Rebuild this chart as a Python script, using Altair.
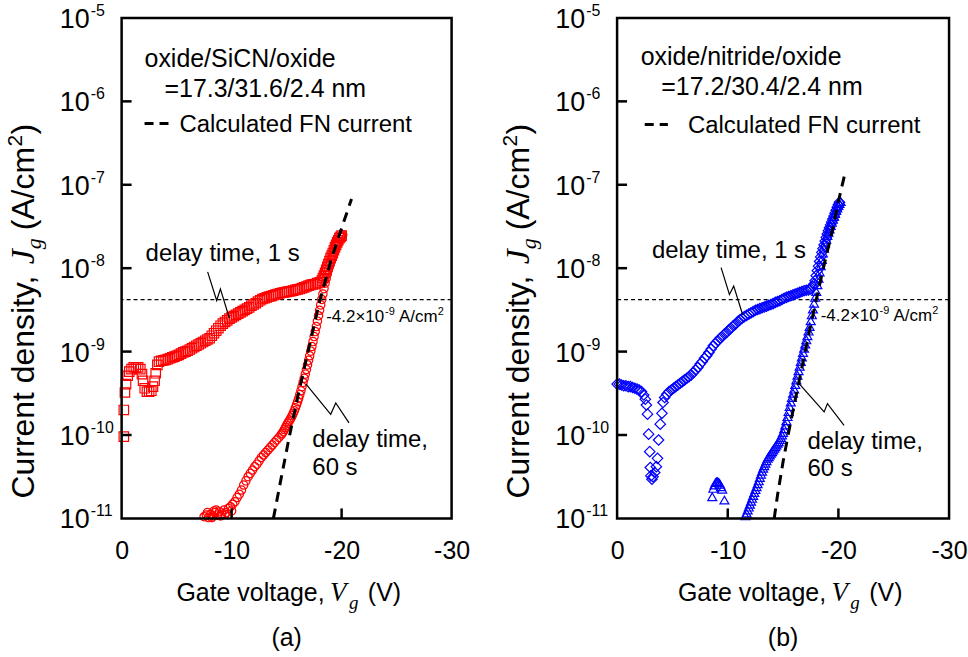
import altair as alt
import pandas as pd

FONT = "Liberation Sans"
SERIF = "Liberation Serif"

# ---------------- panel (a): oxide/SiCN/oxide ----------------
# (gate voltage V, log10 of current density A/cm2)
a_delay1s = [
    (-0.2, -10.02), (-0.2, -9.70), (-0.3, -9.49), (-0.4, -9.39), (-0.55, -9.29), (-0.7, -9.24),
    (-0.9, -9.21), (-1.1, -9.19), (-1.3, -9.19), (-1.5, -9.19), (-1.7, -9.21), (-1.85, -9.27),
    (-1.95, -9.35), (-2.1, -9.44), (-2.3, -9.48), (-2.5, -9.48), (-2.7, -9.47), (-2.85, -9.42),
    (-3.0, -9.35), (-3.1, -9.26), (-3.25, -9.16), (-3.4, -9.12), (-3.6, -9.11), (-3.8, -9.105),
    (-4.0, -9.10), (-4.2, -9.09), (-4.4, -9.08), (-4.6, -9.07), (-4.8, -9.06), (-5.0, -9.05),
    (-5.2, -9.04), (-5.4, -9.025), (-5.6, -9.01), (-5.8, -9.00), (-6.0, -8.99), (-6.2, -8.975),
    (-6.4, -8.96), (-6.6, -8.945), (-6.8, -8.93), (-7.0, -8.915), (-7.2, -8.90), (-7.4, -8.885),
    (-7.6, -8.87), (-7.8, -8.855), (-8.0, -8.84), (-8.2, -8.81), (-8.4, -8.78), (-8.6, -8.75),
    (-8.8, -8.72), (-9.0, -8.69), (-9.2, -8.665), (-9.4, -8.645), (-9.6, -8.625), (-9.8, -8.605),
    (-10.0, -8.59), (-10.2, -8.575), (-10.4, -8.56), (-10.6, -8.545), (-10.8, -8.53), (-11.0, -8.515),
    (-11.2, -8.50), (-11.4, -8.485), (-11.6, -8.47), (-11.8, -8.45), (-12.0, -8.435), (-12.2, -8.42),
    (-12.4, -8.40), (-12.6, -8.385), (-12.8, -8.37), (-13.0, -8.36), (-13.2, -8.35), (-13.4, -8.34),
    (-13.6, -8.335), (-13.8, -8.325), (-14.0, -8.315), (-14.2, -8.31), (-14.4, -8.30), (-14.6, -8.295),
    (-14.8, -8.29), (-15.0, -8.285), (-15.2, -8.28), (-15.4, -8.275), (-15.6, -8.27), (-15.8, -8.26),
    (-16.0, -8.255), (-16.2, -8.25), (-16.4, -8.24), (-16.6, -8.23), (-16.8, -8.22), (-17.0, -8.21),
    (-17.2, -8.20), (-17.4, -8.195), (-17.6, -8.19), (-17.8, -8.18), (-18.0, -8.17), (-18.2, -8.15),
    (-18.3, -8.12), (-18.4, -8.09), (-18.5, -8.055), (-18.6, -8.02), (-18.7, -7.985), (-18.8, -7.95),
    (-18.9, -7.915), (-19.0, -7.88), (-19.1, -7.85), (-19.2, -7.82), (-19.3, -7.785), (-19.4, -7.75),
    (-19.5, -7.72), (-19.6, -7.69), (-19.7, -7.665), (-19.8, -7.64), (-19.9, -7.625), (-20.0, -7.61),
]
a_delay60s = [
    (-7.5, -10.98), (-7.7, -10.96), (-7.8, -10.93), (-7.9, -10.99), (-8.1, -10.95), (-8.2, -10.99),
    (-8.3, -10.97), (-8.4, -10.91), (-8.5, -10.93), (-8.6, -10.90), (-8.7, -10.96), (-8.9, -10.92),
    (-9.0, -10.97), (-9.1, -10.95), (-9.3, -10.90), (-9.4, -10.95), (-9.5, -10.93), (-9.7, -10.88),
    (-9.9, -10.86), (-10.0, -10.91), (-10.1, -10.83), (-10.3, -10.80), (-10.5, -10.75), (-10.7, -10.71),
    (-10.9, -10.66), (-11.1, -10.60), (-11.3, -10.55), (-11.5, -10.50), (-11.7, -10.46), (-11.9, -10.42),
    (-12.1, -10.38), (-12.3, -10.35), (-12.5, -10.31), (-12.7, -10.27), (-12.9, -10.24), (-13.1, -10.21),
    (-13.3, -10.18), (-13.5, -10.15), (-13.7, -10.12), (-13.9, -10.09), (-14.1, -10.06), (-14.3, -10.03),
    (-14.5, -10.00), (-14.6, -9.98), (-14.7, -9.96), (-14.8, -9.935), (-14.9, -9.91), (-15.0, -9.885),
    (-15.1, -9.86), (-15.2, -9.84), (-15.3, -9.82), (-15.4, -9.795), (-15.5, -9.77), (-15.6, -9.74),
    (-15.7, -9.71), (-15.8, -9.675), (-15.9, -9.64), (-16.0, -9.60), (-16.1, -9.56), (-16.2, -9.515),
    (-16.3, -9.47), (-16.4, -9.42), (-16.5, -9.37), (-16.6, -9.32), (-16.7, -9.27), (-16.8, -9.215),
    (-16.9, -9.16), (-17.0, -9.105), (-17.1, -9.05), (-17.2, -8.995), (-17.3, -8.94), (-17.4, -8.88),
    (-17.5, -8.82), (-17.6, -8.76), (-17.7, -8.70), (-17.8, -8.635), (-17.9, -8.57), (-18.0, -8.505),
    (-18.1, -8.44), (-18.2, -8.375), (-18.3, -8.31), (-18.4, -8.245), (-18.5, -8.18), (-18.6, -8.125),
    (-18.7, -8.07), (-18.8, -8.02), (-18.9, -7.97), (-19.0, -7.93), (-19.1, -7.89), (-19.2, -7.85),
    (-19.3, -7.81), (-19.4, -7.775), (-19.5, -7.74), (-19.6, -7.71), (-19.7, -7.68), (-19.8, -7.655),
    (-19.9, -7.63), (-20.0, -7.615), (-20.1, -7.60),
]
a_fn = [(-13.8, -11.0), (-14.5, -10.52), (-15.2, -10.05), (-16.0, -9.55), (-17.0, -8.97),
        (-18.0, -8.40), (-19.0, -7.92), (-20.0, -7.52), (-20.9, -7.17)]
a_leader_1s = [(-7.82, -8.044), (-8.64, -8.388), (-8.98, -8.249), (-9.79, -8.597)]
a_leader_60s = [(-16.75, -9.388), (-19.01, -9.752), (-19.47, -9.616), (-20.67, -9.854)]

# ---------------- panel (b): oxide/nitride/oxide ----------------
b_delay1s = [
    (0.0, -9.39), (-0.2, -9.39), (-0.4, -9.40), (-0.6, -9.41), (-0.8, -9.41), (-1.0, -9.42),
    (-1.2, -9.42), (-1.4, -9.43), (-1.6, -9.44), (-1.8, -9.45), (-2.0, -9.46), (-2.2, -9.48),
    (-2.4, -9.52), (-2.55, -9.57), (-2.65, -9.64), (-2.75, -9.75), (-2.85, -9.99), (-2.95, -10.20),
    (-3.0, -10.39), (-3.05, -10.49), (-3.15, -10.53), (-3.25, -10.50), (-3.4, -10.45), (-3.55, -10.38),
    (-3.65, -10.28), (-3.75, -10.06), (-3.9, -9.87), (-4.05, -9.74), (-4.15, -9.61), (-4.3, -9.55),
    (-4.5, -9.51), (-4.7, -9.48), (-4.9, -9.46), (-5.1, -9.44), (-5.3, -9.42), (-5.5, -9.40),
    (-5.7, -9.38), (-5.9, -9.36), (-6.1, -9.34), (-6.3, -9.32), (-6.5, -9.30), (-6.7, -9.28),
    (-6.9, -9.25), (-7.1, -9.22), (-7.3, -9.19), (-7.5, -9.15), (-7.7, -9.12), (-7.9, -9.08),
    (-8.1, -9.05), (-8.3, -9.01), (-8.5, -8.97), (-8.7, -8.93), (-8.9, -8.90), (-9.1, -8.87),
    (-9.3, -8.84), (-9.5, -8.82), (-9.7, -8.79), (-9.9, -8.77), (-10.1, -8.74), (-10.3, -8.72),
    (-10.5, -8.69), (-10.7, -8.67), (-10.9, -8.64), (-11.1, -8.62), (-11.3, -8.60), (-11.5, -8.58),
    (-11.7, -8.565), (-11.9, -8.55), (-12.1, -8.535), (-12.3, -8.52), (-12.5, -8.505), (-12.7, -8.495),
    (-12.9, -8.485), (-13.1, -8.475), (-13.3, -8.465), (-13.5, -8.455), (-13.7, -8.445), (-13.9, -8.435),
    (-14.1, -8.425), (-14.3, -8.41), (-14.5, -8.40), (-14.7, -8.39), (-14.9, -8.375), (-15.1, -8.36),
    (-15.3, -8.35), (-15.5, -8.34), (-15.7, -8.33), (-15.9, -8.32), (-16.1, -8.31), (-16.3, -8.30),
    (-16.5, -8.29), (-16.7, -8.28), (-16.9, -8.27), (-17.1, -8.265), (-17.3, -8.26), (-17.5, -8.25),
    (-17.7, -8.22), (-17.8, -8.19), (-17.9, -8.15), (-18.0, -8.09), (-18.1, -8.03), (-18.2, -7.975),
    (-18.3, -7.92), (-18.4, -7.865), (-18.5, -7.81), (-18.6, -7.765), (-18.7, -7.72), (-18.8, -7.675),
    (-18.9, -7.63), (-19.0, -7.59), (-19.1, -7.55), (-19.2, -7.515), (-19.3, -7.48), (-19.4, -7.445),
    (-19.5, -7.41), (-19.6, -7.375), (-19.7, -7.34), (-19.8, -7.305), (-19.9, -7.27), (-20.0, -7.24),
    (-20.1, -7.21),
]
b_delay60s = [
    (-8.6, -10.74), (-8.7, -10.64), (-8.8, -10.60), (-8.9, -10.57), (-9.0, -10.56), (-9.1, -10.56),
    (-9.2, -10.57), (-9.3, -10.59), (-9.4, -10.62), (-9.5, -10.65), (-9.7, -10.78),
    (-11.6, -10.97), (-11.7, -10.935), (-11.8, -10.90), (-11.9, -10.865), (-12.0, -10.83),
    (-12.1, -10.795), (-12.2, -10.76), (-12.3, -10.725), (-12.4, -10.69), (-12.5, -10.655),
    (-12.6, -10.62), (-12.7, -10.585), (-12.8, -10.55), (-12.9, -10.51), (-13.0, -10.47),
    (-13.1, -10.435), (-13.2, -10.40), (-13.3, -10.37), (-13.4, -10.34), (-13.5, -10.31),
    (-13.6, -10.28), (-13.7, -10.26), (-13.8, -10.24), (-13.9, -10.22), (-14.0, -10.20),
    (-14.1, -10.18), (-14.2, -10.16), (-14.3, -10.14), (-14.4, -10.12), (-14.5, -10.10),
    (-14.6, -10.08), (-14.7, -10.055), (-14.8, -10.03), (-14.9, -10.00), (-15.0, -9.97),
    (-15.1, -9.925), (-15.2, -9.88), (-15.3, -9.83), (-15.4, -9.78), (-15.5, -9.72),
    (-15.6, -9.66), (-15.7, -9.605), (-15.8, -9.55), (-15.9, -9.50), (-16.0, -9.45),
    (-16.1, -9.395), (-16.2, -9.34), (-16.3, -9.285), (-16.4, -9.23), (-16.5, -9.175),
    (-16.6, -9.12), (-16.7, -9.065), (-16.8, -9.01), (-16.9, -8.96), (-17.0, -8.91),
    (-17.1, -8.86), (-17.2, -8.81), (-17.3, -8.755), (-17.4, -8.70), (-17.5, -8.63),
    (-17.6, -8.56), (-17.7, -8.49), (-17.8, -8.42), (-17.9, -8.35), (-18.0, -8.28),
    (-18.1, -8.20), (-18.2, -8.12), (-18.3, -8.045), (-18.4, -7.97), (-18.5, -7.895),
    (-18.6, -7.82), (-18.7, -7.76), (-18.8, -7.70), (-18.9, -7.655), (-19.0, -7.61),
    (-19.1, -7.57), (-19.2, -7.53), (-19.3, -7.49), (-19.4, -7.45), (-19.5, -7.415),
    (-19.6, -7.38), (-19.7, -7.345), (-19.8, -7.31), (-19.9, -7.28), (-20.0, -7.25),
    (-20.1, -7.225), (-20.2, -7.20),
]
b_fn = [(-14.2, -11.0), (-14.5, -10.72), (-15.0, -10.32), (-15.5, -9.97), (-16.0, -9.64),
        (-16.5, -9.32), (-17.0, -9.0), (-17.5, -8.68), (-18.0, -8.38), (-18.5, -8.08),
        (-19.0, -7.80), (-19.5, -7.52), (-20.0, -7.20), (-20.6, -6.86)]
b_leader_1s = [(-9.40, -7.994), (-10.15, -8.316), (-10.54, -8.215), (-11.35, -8.558)]
b_leader_60s = [(-16.31, -9.362), (-18.71, -9.724), (-19.01, -9.624), (-20.51, -9.886)]

# axis ticks and reference level
x_tick_values = [0, -10, -20, -30]
y_exponents = [-11, -10, -9, -8, -7, -6, -5]
threshold_J = 4.2e-9

# ---------------- helpers ----------------
xs = alt.Scale(domain=[0, -30], nice=False, zero=False)
ys = alt.Scale(type="log", domain=[1e-11, 1e-5], nice=False)
xaxis = alt.Axis(values=x_tick_values, labelExpr="'' + datum.value", ticks=False, domain=False,
                 grid=False, title=None, labelFontSize=25, labelFont=FONT, labelColor="black",
                 labelPadding=20, labelFlush=False, labelOverlap=False)


def X():
    return alt.X("V:Q", scale=xs, axis=xaxis)


def Y():
    return alt.Y("J:Q", scale=ys, axis=None)


def frame(pts):
    return pd.DataFrame({"V": [p[0] for p in pts], "J": [10.0 ** p[1] for p in pts],
                         "i": list(range(len(pts)))})


def ptext(x, y, s, size=24, font=FONT, style="normal", align="left", angle=0):
    kw = dict(align=align, baseline="alphabetic", fontSize=size, font=font,
              fontStyle=style, color="black")
    if angle:
        kw["angle"] = angle
    return alt.Chart(pd.DataFrame({"t": [s]})).mark_text(**kw).encode(
        x=alt.value(x), y=alt.value(y), text="t:N")


def dtext(V, lj, s, size=24, dx=0, dy=0):
    return alt.Chart(pd.DataFrame({"V": [V], "J": [10.0 ** lj], "t": [s]})).mark_text(
        align="left", baseline="alphabetic", fontSize=size, font=FONT, color="black",
        dx=dx, dy=dy).encode(x=X(), y=Y(), text="t:N")


def panel(p):
    W, H = p["W"], p["H"]
    layers = []
    # reference level 4.2e-9
    layers.append(alt.Chart(pd.DataFrame({"J": [threshold_J]})).mark_rule(
        color="black", strokeWidth=1.1, strokeDash=[4, 3]).encode(y=Y()))
    # measured data
    layers.append(alt.Chart(frame(p["s1"])).mark_point(
        shape=p["shape1"], size=p["size1"], filled=False, color=p["color"], strokeWidth=1.2,
        opacity=1).encode(x=X(), y=Y()))
    layers.append(alt.Chart(frame(p["s60"])).mark_point(
        shape=p["shape60"], size=p["size60"], filled=False, color=p["color"], strokeWidth=1.2,
        opacity=1).encode(x=X(), y=Y()))
    # calculated FN current
    layers.append(alt.Chart(frame(p["fn"])).mark_line(
        color="black", strokeWidth=3, strokeDash=[10, 7]).encode(x=X(), y=Y(), order="i:Q"))
    # leader lines
    for ld in p["leaders"]:
        layers.append(alt.Chart(frame(ld)).mark_line(color="black", strokeWidth=1.2).encode(
            x=X(), y=Y(), order="i:Q"))
    # legend-like header
    t = p["hdr"]
    layers.append(dtext(t["l1"][0], t["l1"][1], t["l1"][2], size=25))
    layers.append(dtext(t["l2"][0], t["l2"][1], t["l2"][2], size=25))
    layers.append(alt.Chart(frame([(t["dash"][0], t["dash"][2])]).assign(
        V2=t["dash"][1])).mark_rule(color="black", strokeWidth=3, strokeDash=[9, 6]).encode(
        x=X(), x2="V2:Q", y=Y()))
    layers.append(dtext(t["l3"][0], t["l3"][1], "Calculated FN current", size=24))
    # annotations
    a = p["ann"]
    layers.append(dtext(a["d1"][0], a["d1"][1], "delay time, 1 s"))
    layers.append(dtext(a["d60"][0], a["d60"][1], "delay time,"))
    layers.append(dtext(a["d60"][0], a["d60"][2], "60 s"))
    lv, dyv = a["lvl"]
    layers.append(dtext(lv, -8.3768, "-4.2\u00d710", size=17, dy=dyv))
    layers.append(dtext(lv, -8.3768, "-9", size=11, dx=59, dy=dyv - 7))
    layers.append(dtext(lv, -8.3768, "A/cm", size=17, dx=73, dy=dyv))
    layers.append(dtext(lv, -8.3768, "2", size=11, dx=112, dy=dyv - 7))
    # inward ticks
    layers.append(alt.Chart(pd.DataFrame({"J": [10.0 ** e for e in y_exponents[1:-1]]})).mark_rule(
        color="black", strokeWidth=2.5).encode(y=Y(), x=alt.value(0), x2=alt.value(10)))
    layers.append(alt.Chart(pd.DataFrame({"V": x_tick_values[1:-1]})).mark_rule(
        color="black", strokeWidth=2.5).encode(x=X(), y=alt.value(H), y2=alt.value(H - 10)))
    # plot frame
    layers.append(alt.Chart(pd.DataFrame({"f": [0]})).mark_rect(
        fillOpacity=0, stroke="black", strokeWidth=2.5).encode(
        x=alt.value(0), x2=alt.value(W), y=alt.value(0), y2=alt.value(H)))
    # y tick labels 10^n
    ydf = pd.DataFrame({"J": [10.0 ** e for e in y_exponents], "e": [str(e) for e in y_exponents]})
    layers.append(alt.Chart(ydf).mark_text(text="10", align="right", baseline="middle",
                                           fontSize=27, font=FONT, color="black", dy=2).encode(
        y=Y(), x=alt.value(-32)))
    layers.append(alt.Chart(ydf).mark_text(align="left", baseline="middle", fontSize=16,
                                           font=FONT, color="black", dy=-7).encode(
        y=Y(), x=alt.value(-31), text="e:N"))
    # y title (rotated, mixed fonts)
    bx = -88
    layers.append(ptext(bx, 482, "Current density,", size=32, angle=270))
    layers.append(ptext(bx, 247, "J", size=34, font=SERIF, style="italic", angle=270))
    layers.append(ptext(bx + 7, 232, "g", size=22, font=SERIF, style="italic", angle=270))
    layers.append(ptext(bx, 213, "(A/cm", size=32, angle=270))
    layers.append(ptext(bx - 12, 129, "2", size=21, angle=270))
    layers.append(ptext(bx, 117, ")", size=32, angle=270))
    # x title (mixed fonts)
    o = p["xt"]
    layers.append(ptext(o, 585, "Gate voltage,", size=25))
    layers.append(ptext(o + 154, 585, "V", size=27, font=SERIF, style="italic"))
    layers.append(ptext(o + 173, 593, "g", size=19, font=SERIF, style="italic"))
    layers.append(ptext(o + 192, 585, "(V)", size=25))
    layers.append(ptext(W / 2, 630, p["letter"], size=25, align="center"))
    if p.get("anchor"):
        layers.append(alt.Chart(pd.DataFrame({"a": [0]})).mark_rule(
            strokeOpacity=0, color="white").encode(
            x=alt.value(-122), x2=alt.value(-121), y=alt.value(-17), y2=alt.value(-17)))
    return alt.layer(*layers).properties(width=W, height=H)


pa = panel(dict(
    W=331, H=502, s1=a_delay1s, s60=a_delay60s, fn=a_fn, color="#ff0000",
    shape1="square", size1=90, shape60="circle", size60=70,
    leaders=[a_leader_1s, a_leader_60s],
    hdr=dict(l1=(-2.085, -5.593, "oxide/SiCN/oxide"), l2=(-3.90, -5.949, "=17.3/31.6/2.4 nm"),
             dash=(-2.085, -4.35, -6.265), l3=(-5.26, -6.364)),
    ann=dict(d1=(-2.18, -7.917), d60=(-17.34, -10.138, -10.475), lvl=(-18.6, 22)),
    xt=55, letter="(a)", anchor=True))

pb = panel(dict(
    W=333, H=502, s1=b_delay1s, s60=b_delay60s, fn=b_fn, color="#0000ff",
    shape1="diamond", size1=110, shape60="triangle-up", size60=80,
    leaders=[b_leader_1s, b_leader_60s],
    hdr=dict(l1=(-2.14, -5.559, "oxide/nitride/oxide"), l2=(-3.99, -5.921, "=17.2/30.4/2.4 nm"),
             dash=(-2.5, -4.59, -6.276), l3=(-6.40, -6.385)),
    ann=dict(d1=(-3.15, -7.873), d60=(-17.2, -10.167, -10.49), lvl=(-18.4, 21)),
    xt=61, letter="(b)"))

chart = alt.hconcat(pa, pb, spacing=166, bounds="flush", padding=0).configure(
    font=FONT, background="white").configure_view(strokeWidth=0)

chart.save("out.html", embed_options={"renderer": "svg", "actions": False})
